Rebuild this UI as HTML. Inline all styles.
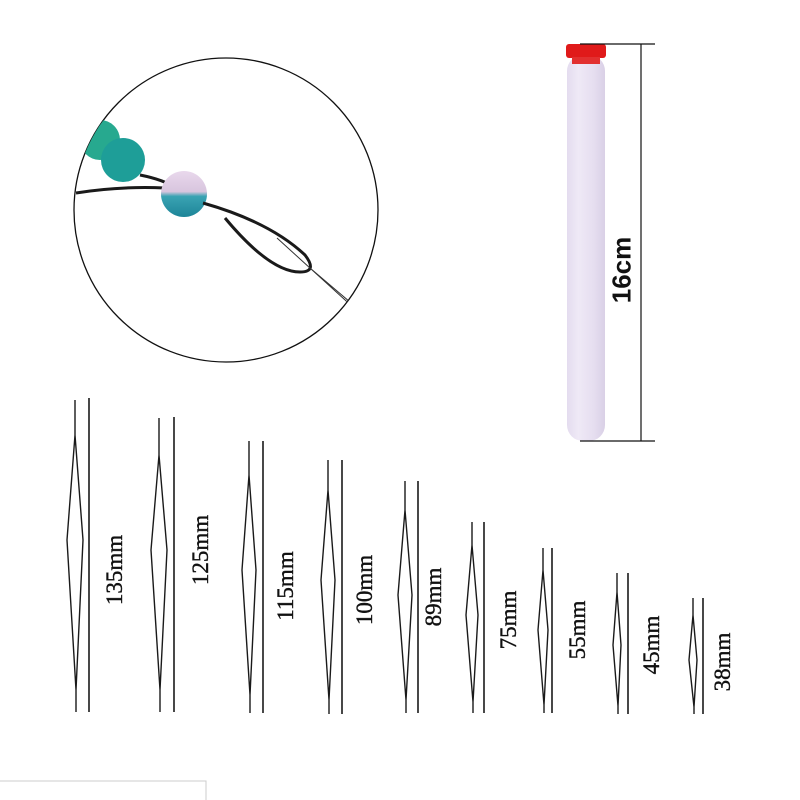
<!DOCTYPE html>
<html><head><style>
body{margin:0;background:#fff;width:800px;height:800px;overflow:hidden;position:relative;font-family:"Liberation Serif",serif}
.lbl{position:absolute;transform:translate(-50%,-50%) rotate(-90deg);font-size:23px;color:#111;white-space:nowrap;-webkit-text-stroke:0.4px #111}
</style></head><body>
<svg width="800" height="800" style="position:absolute;left:0;top:0">
<defs>
<linearGradient id="tube" x1="0" x2="1"><stop offset="0" stop-color="#e4dcef"/><stop offset="0.3" stop-color="#efe9f6"/><stop offset="0.7" stop-color="#e6def0"/><stop offset="1" stop-color="#d9d0e6"/></linearGradient>
<linearGradient id="b3" x1="0" y1="0" x2="0" y2="1"><stop offset="0" stop-color="#e9d8ec"/><stop offset="0.45" stop-color="#d8c5de"/><stop offset="0.55" stop-color="#3aa3b3"/><stop offset="1" stop-color="#1d8598"/></linearGradient>
<clipPath id="cc"><circle cx="226" cy="210" r="152"/></clipPath>
</defs>
<circle cx="226" cy="210" r="152" fill="#fff" stroke="#111" stroke-width="1.3"/>
<g clip-path="url(#cc)">
<circle cx="100" cy="140" r="20" fill="#27a98f"/>
<circle cx="123" cy="160" r="22" fill="#1e9e98"/>
<path d="M76 193 Q120 186 165 188" stroke="#1a1a1a" stroke-width="3" fill="none"/>
<path d="M140 175 Q165 180 175 188" stroke="#1a1a1a" stroke-width="3" fill="none"/>
<circle cx="184" cy="194" r="23" fill="url(#b3)"/>
<path d="M203 203 Q270 222 305 255 Q318 272 300 272 Q270 272 225 218" stroke="#1a1a1a" stroke-width="3" fill="none"/>
<path d="M277 238 L378 330 M310 268 L377 325" stroke="#333" stroke-width="1" fill="none"/>
</g>
<rect x="567" y="55" width="38" height="386" rx="16" fill="url(#tube)"/>
<rect x="566" y="44" width="40" height="14" rx="3" fill="#e01a1a"/>
<rect x="572" y="57" width="28" height="7" fill="#e23030"/>
<path d="M580 44 H655 M580 441 H655 M641 44 V441" stroke="#111" stroke-width="1.2"/>
<g stroke="#1a1a1a" stroke-width="1.6" fill="none">
<path d="M89 398 V712 M174 417 V712 M263 441 V713 M342 460 V714 M418 481 V713 M484 522 V713 M552 548 V713 M628 573 V714 M703 598 V714"/>
</g>
<g stroke="#1a1a1a" stroke-width="1.4" fill="none">
<path d="M75 400 V435 L83 540 L76 690 V712 M75 435 L67 540 L76 690"/>
<path d="M159 418 V455 L167 550 L160 690 V712 M159 455 L151 550 L160 690"/>
<path d="M249 441 V475 L256 570 L250 695 V713 M249 475 L242 570 L250 695"/>
<path d="M328 460 V490 L335 580 L329 700 V714 M328 490 L321 580 L329 700"/>
<path d="M405 481 V510 L412 595 L406 700 V713 M405 510 L398 595 L406 700"/>
<path d="M472 522 V545 L478 615 L473 702 V713 M472 545 L466 615 L473 702"/>
<path d="M543 548 V570 L548 630 L544 705 V713 M543 570 L538 630 L544 705"/>
<path d="M617 573 V592 L621 645 L618 706 V714 M617 592 L613 645 L618 706"/>
<path d="M693 598 V615 L697 660 L694 707 V714 M693 615 L689 660 L694 707"/>
</g>
<path d="M0 781 H206 V800" stroke="#ccc" stroke-width="1" fill="none"/>
</svg>
<div class="lbl" style="left:115px;top:570px">135mm</div>
<div class="lbl" style="left:201px;top:550px">125mm</div>
<div class="lbl" style="left:286px;top:586px">115mm</div>
<div class="lbl" style="left:365px;top:590px">100mm</div>
<div class="lbl" style="left:434px;top:597px">89mm</div>
<div class="lbl" style="left:509px;top:620px">75mm</div>
<div class="lbl" style="left:578px;top:630px">55mm</div>
<div class="lbl" style="left:652px;top:645px">45mm</div>
<div class="lbl" style="left:723px;top:662px">38mm</div>
<div class="lbl" style="left:622px;top:270px;font-family:'Liberation Sans',sans-serif;font-weight:bold;font-size:26px;-webkit-text-stroke:0">16cm</div>
</body></html>
